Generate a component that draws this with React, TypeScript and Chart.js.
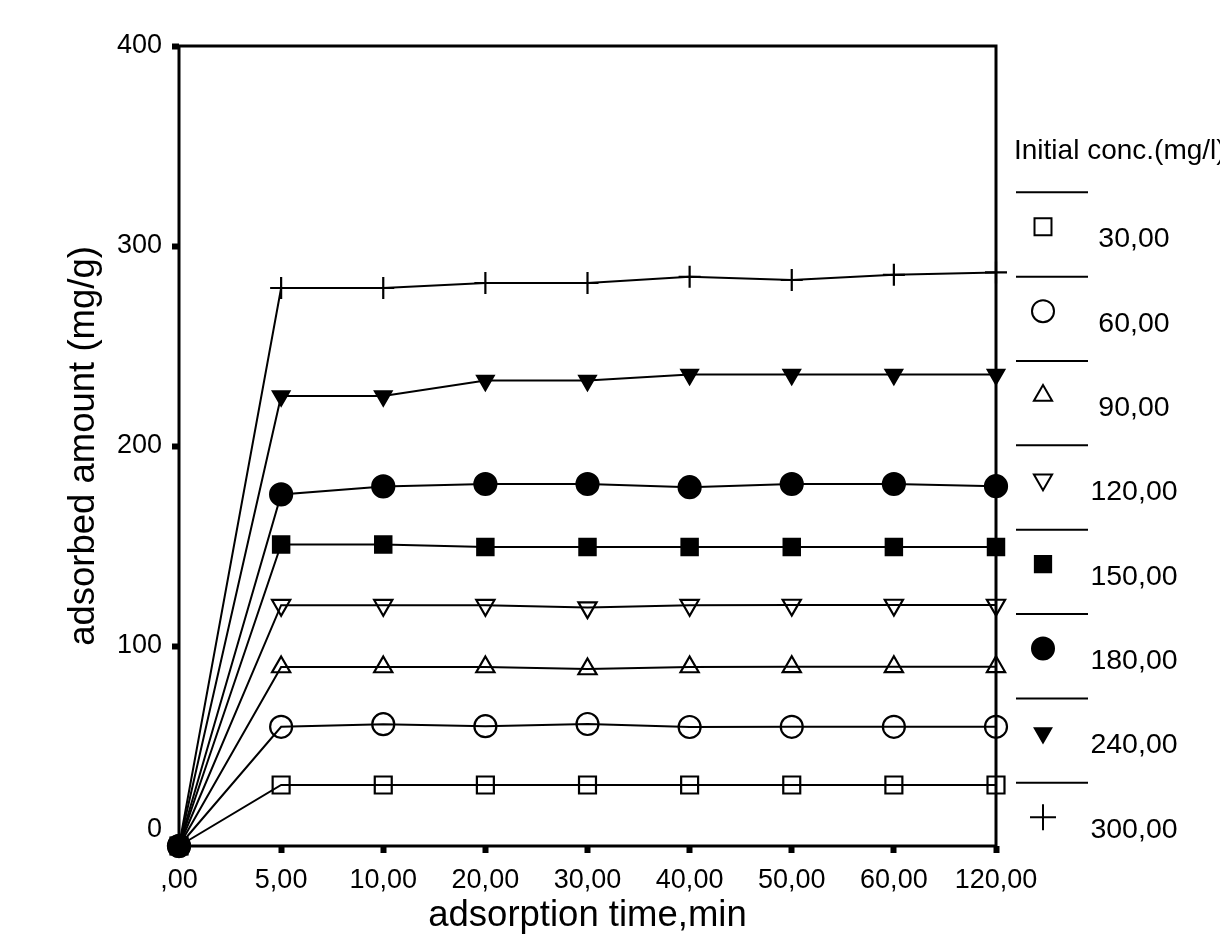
import { useEffect, useRef } from "react"
import { Chart, registerables } from "chart.js"
import { drawPoint } from "chart.js/helpers"

Chart.register(...registerables)

// adsorption time (min) as printed on the axis
const times = [",00", "5,00", "10,00", "20,00", "30,00", "40,00", "50,00", "60,00", "120,00"]

// adsorbed amount (mg/g) for each initial concentration
const conc30 = [0, 30.5, 30.5, 30.5, 30.5, 30.5, 30.5, 30.5, 30.5]
const conc60 = [0, 59.6, 60.9, 59.9, 61, 59.5, 59.6, 59.6, 59.6]
const conc90 = [0, 89.5, 89.5, 89.5, 88.5, 89.5, 89.6, 89.6, 89.6]
const conc120 = [0, 120.4, 120.4, 120.4, 119.2, 120.4, 120.5, 120.5, 120.5]
const conc150 = [0, 150.8, 150.8, 149.5, 149.5, 149.5, 149.5, 149.5, 149.5]
const conc180 = [0, 175.8, 179.8, 181, 181, 179.4, 181, 181, 179.9]
const conc240 = [0, 225, 225, 232.7, 232.7, 235.7, 235.7, 235.7, 235.7]
const conc300 = [0, 279, 279, 281.5, 281.5, 284.6, 283, 285.6, 286.8]

const concNames = ["30,00", "60,00", "90,00", "120,00", "150,00", "180,00", "240,00", "300,00"]
const legendTitle = "Initial conc.(mg/l)"

const FONT = "'Liberation Sans', Arial, sans-serif"

const series = [
  { data: conc30, pointStyle: "rect", radius: 12, filled: false, rotation: 0 },
  { data: conc60, pointStyle: "circle", radius: 11, filled: false, rotation: 0 },
  { data: conc90, pointStyle: "triangle", radius: 10.5, filled: false, rotation: 0 },
  { data: conc120, pointStyle: "triangle", radius: 10.5, filled: false, rotation: 180 },
  { data: conc150, pointStyle: "rect", radius: 11.5, filled: true, rotation: 0 },
  { data: conc180, pointStyle: "circle", radius: 11, filled: true, rotation: 0 },
  { data: conc240, pointStyle: "triangle", radius: 9.5, filled: true, rotation: 180 },
  { data: conc300, pointStyle: "cross", radius: 11, filled: false, rotation: 0 },
]

// plot frame on all four sides
const framePlugin = {
  id: "frame",
  beforeDatasetsDraw(chart: any) {
    const { ctx, chartArea } = chart
    const { left, top, right, bottom } = chartArea
    ctx.save()
    ctx.strokeStyle = "#000"
    ctx.lineWidth = 3
    ctx.strokeRect(left, top, right - left, bottom - top)
    ctx.restore()
  },
}

// the "0" on the value axis sits a little above its tick in the original
const zeroLabel = {
  id: "zeroLabel",
  afterDraw(chart: any) {
    const { ctx } = chart
    const y = chart.scales.y
    ctx.save()
    ctx.fillStyle = "#000"
    ctx.font = `27px ${FONT}`
    ctx.textAlign = "right"
    ctx.textBaseline = "middle"
    ctx.fillText("0", y.right - 17, y.getPixelForValue(0) - 16)
    ctx.restore()
  },
}

// legend to the right of the plot: title, separator lines, marker + label
const sideLegend = {
  id: "sideLegend",
  afterDraw(chart: any) {
    const { ctx, chartArea } = chart
    const x0 = chartArea.right
    ctx.save()
    ctx.fillStyle = "#000"
    ctx.textBaseline = "middle"
    ctx.textAlign = "left"
    ctx.font = `28px ${FONT}`
    ctx.fillText(legendTitle, x0 + 18, 151)

    const step = 84.35
    chart.data.datasets.forEach((ds: any, i: number) => {
      const lineY = 192.3 + i * step
      ctx.strokeStyle = "#000"
      ctx.lineWidth = 2
      ctx.beginPath()
      ctx.moveTo(x0 + 20, lineY)
      ctx.lineTo(x0 + 92, lineY)
      ctx.stroke()

      ctx.fillStyle = ds.pointBackgroundColor
      ctx.strokeStyle = "#000"
      drawPoint(ctx, {
        pointStyle: ds.pointStyle,
        rotation: ds.pointRotation,
        radius: ds.pointStyle === "cross" ? 13 : ds.pointRadius,
        borderWidth: ds.pointBorderWidth,
      }, x0 + 47, lineY + 34.5)

      ctx.fillStyle = "#000"
      ctx.textAlign = "center"
      ctx.font = `28.5px ${FONT}`
      ctx.fillText(concNames[i], x0 + 138, lineY + 47)
    })
    ctx.restore()
  },
}

export default function App() {
  const canvasRef = useRef<HTMLCanvasElement | null>(null)

  useEffect(() => {
    if (!canvasRef.current) return
    const ctx = canvasRef.current.getContext("2d")
    if (!ctx) return

    const chart = new Chart(ctx, {
      type: "line",
      data: {
        labels: times,
        datasets: series.map((s, i) => ({
          label: concNames[i],
          data: s.data,
          borderColor: "#000",
          borderWidth: 2,
          pointStyle: s.pointStyle as any,
          pointRotation: s.rotation,
          pointRadius: s.radius,
          pointBorderWidth: 2.2,
          pointBorderColor: "#000",
          pointBackgroundColor: s.filled ? "#000" : "rgba(0,0,0,0)",
          tension: 0,
          fill: false,
          clip: false,
          // filled circles sit on top of the pile at the origin
          order: s.pointStyle === "circle" && s.filled ? 0 : 1,
        })),
      },
      options: {
        responsive: true,
        maintainAspectRatio: false,
        animation: false,
        layout: { padding: { left: 58, right: 224, top: 46, bottom: 6 } },
        plugins: {
          legend: { display: false },
          tooltip: { enabled: false },
        },
        scales: {
          x: {
            type: "category",
            offset: false,
            border: { display: false },
            grid: {
              display: true,
              drawOnChartArea: false,
              drawTicks: true,
              tickLength: 7,
              tickWidth: 6,
              tickColor: "#000",
              offset: false,
            },
            ticks: {
              color: "#000",
              font: { family: FONT, size: 27 },
              padding: 11,
              maxRotation: 0,
              autoSkip: false,
            },
            title: {
              display: true,
              text: "adsorption time,min",
              color: "#000",
              font: { family: FONT, size: 36.5 },
            },
            afterFit: (scale: any) => { scale.height = 96 },
          },
          y: {
            min: 0,
            max: 400,
            border: { display: false },
            grid: {
              display: true,
              drawOnChartArea: false,
              drawTicks: true,
              tickLength: 7,
              tickWidth: 6,
              tickColor: "#000",
            },
            ticks: {
              stepSize: 100,
              color: "#000",
              font: { family: FONT, size: 27 },
              padding: 10,
              callback: (v: any) => (v === 0 ? "" : String(v)),
            },
            title: {
              display: true,
              text: "adsorbed amount (mg/g)",
              color: "#000",
              font: { family: FONT, size: 36.5 },
            },
            afterFit: (scale: any) => { scale.width = 121 },
          },
        },
      },
      plugins: [framePlugin, zeroLabel, sideLegend],
    })

    return () => {
      chart.destroy()
    }
  }, [])

  return (
    <div style={{ position: "fixed", left: 0, top: 0, width: 1220, height: 948, background: "#fff" }}>
      <canvas ref={canvasRef} />
    </div>
  )
}
